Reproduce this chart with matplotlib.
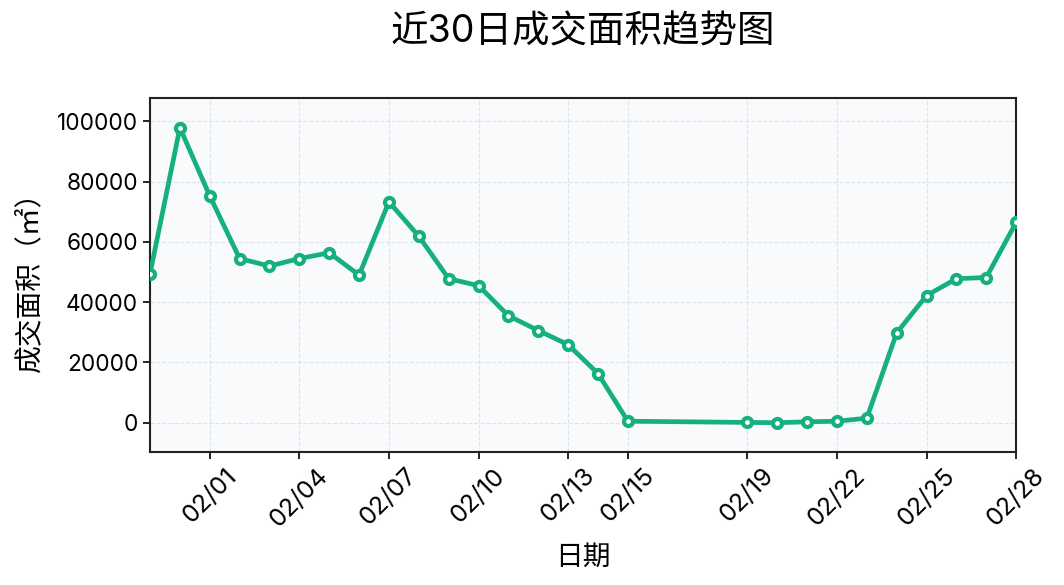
import matplotlib
matplotlib.use('Agg')
import matplotlib.pyplot as plt
import matplotlib.dates as mdates
import pandas as pd

plt.rcParams['font.family'] = ['Inter', 'Noto Sans CJK SC', 'DejaVu Sans']

dates = ['2025-01-30', '2025-01-31', '2025-02-01', '2025-02-02', '2025-02-03',
         '2025-02-04', '2025-02-05', '2025-02-06', '2025-02-07', '2025-02-08',
         '2025-02-09', '2025-02-10', '2025-02-11', '2025-02-12', '2025-02-13',
         '2025-02-14', '2025-02-15', '2025-02-19', '2025-02-20', '2025-02-21',
         '2025-02-22', '2025-02-23', '2025-02-24', '2025-02-25', '2025-02-26',
         '2025-02-27', '2025-02-28']
area = [49500, 97900, 75300, 54500, 52000, 54500, 56400, 49000, 73300, 61900,
        47800, 45500, 35500, 30600, 25900, 16300, 500, 100, 0, 300,
        500, 1500, 29800, 42200, 47800, 48200, 66500]
tick_dates = ['2025-02-01', '2025-02-04', '2025-02-07', '2025-02-10', '2025-02-13',
              '2025-02-15', '2025-02-19', '2025-02-22', '2025-02-25', '2025-02-28']

x = pd.to_datetime(dates)
ticks = pd.to_datetime(tick_dates)

fig = plt.figure(figsize=(10.64, 5.85), dpi=100)
ax = fig.add_axes([0.141, 0.227, 0.814, 0.605])
ax.set_facecolor('#f8fafc')

ax.plot(x, area, color='#16b07f', lw=3.4, marker='o', ms=6.5,
        mfc='white', mec='#16b07f', mew=3, zorder=3)

ax.set_xlim(x[0], x[-1])
ax.set_ylim(-max(area) * 0.1, max(area) * 1.1)
ax.set_xticks(ticks)
ax.xaxis.set_major_formatter(mdates.DateFormatter('%m/%d'))
ax.tick_params(axis='x', rotation=45, labelsize=18, length=5, width=1.2)
ax.tick_params(axis='y', labelsize=16.3, length=5, width=1.2)

ax.grid(True, ls='--', color='#d0d4d8', lw=0.8, alpha=0.6)
for s in ax.spines.values():
    s.set_linewidth(1.5)
    s.set_color('#222222')

ax.set_xlabel('日期', fontsize=20, labelpad=10)
ax.set_ylabel('成交面积（㎡）', fontsize=20, labelpad=10)
fig.suptitle('近30日成交面积趋势图', fontsize=27, x=0.548, y=0.975)

fig.savefig('out.png', dpi=100)
